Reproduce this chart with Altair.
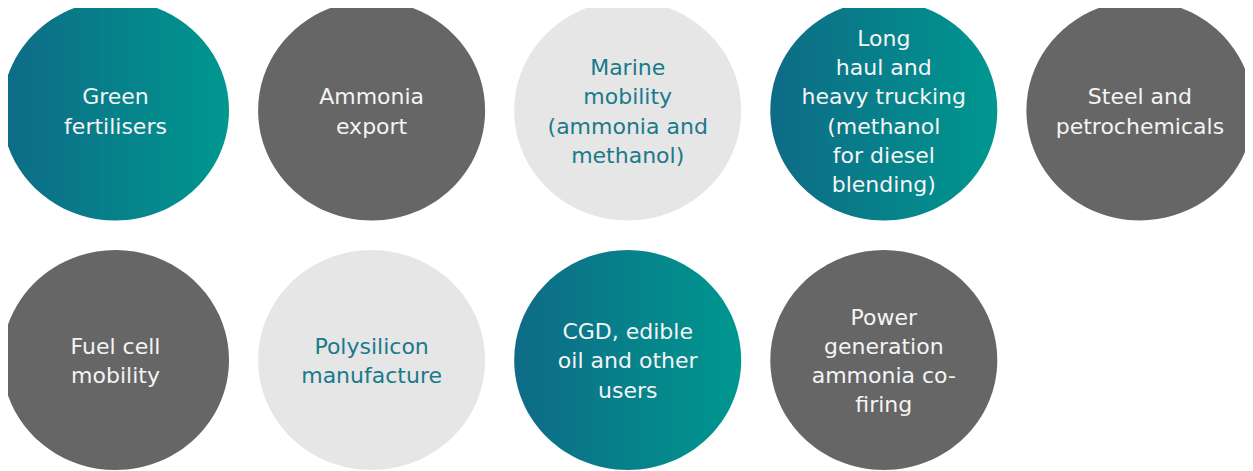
import altair as alt
import pandas as pd

labels = [
    "Green\nfertilisers",
    "Ammonia\nexport",
    "Marine\nmobility\n(ammonia and\nmethanol)",
    "Long\nhaul and\nheavy trucking\n(methanol\nfor diesel\nblending)",
    "Steel and\npetrochemicals",
    "Fuel cell\nmobility",
    "Polysilicon\nmanufacture",
    "CGD, edible\noil and other\nusers",
    "Power\ngeneration\nammonia co-\nfiring",
]
styles = ["teal", "dark", "light", "teal", "dark", "dark", "light", "teal", "dark"]
rows = [0, 0, 0, 0, 0, 1, 1, 1, 1]
cols = [0, 1, 2, 3, 4, 0, 1, 2, 3]

df = pd.DataFrame({"label": labels, "style": styles, "row": rows, "col": cols})

W, H = 1237, 463
colstep, rowstep = 256.1, 249.5
x0, y0 = 107.5, 102.5
xdom = [-x0 / colstep, (W - x0) / colstep]
ydom = [-y0 / rowstep, (H - y0) / rowstep]
LH = 29.3

xscale = alt.Scale(domain=xdom, nice=False, zero=False)
yscale = alt.Scale(domain=ydom, nice=False, zero=False, reverse=True)

ellipse = "M-1,0A1,0.969 0 1,1 1,0A1,0.969 0 1,1 -1,0Z"
size = 227 * 227

base = alt.Chart(df).encode(
    x=alt.X("col:Q", scale=xscale, axis=None),
    y=alt.Y("row:Q", scale=yscale, axis=None),
)

grad = alt.LinearGradient(
    gradient="linear",
    stops=[alt.GradientStop(offset=0, color="#0e6b86"),
           alt.GradientStop(offset=1, color="#00978f")],
    x1=0, x2=1, y1=0, y2=0,
)

teal = base.transform_filter(alt.datum.style == "teal").mark_point(
    shape=ellipse, size=size, filled=True, fill=grad, opacity=1, strokeWidth=0
)
dark = base.transform_filter(alt.datum.style == "dark").mark_point(
    shape=ellipse, size=size, filled=True, fill="#666666", opacity=1, strokeWidth=0
)
light = base.transform_filter(alt.datum.style == "light").mark_point(
    shape=ellipse, size=size, filled=True, fill="#e6e6e6", opacity=1, strokeWidth=0
)

text = alt.Chart(df).transform_calculate(
    nlines="length(split(datum.label, '\\n'))"
).transform_calculate(
    ty=f"datum.row - ((datum.nlines - 1) * {LH} / 2) / {rowstep}"
).mark_text(
    lineBreak="\n", fontSize=22, font="DejaVu Sans", lineHeight=LH,
    align="center", baseline="middle", dy=1.5,
).encode(
    x=alt.X("col:Q", scale=xscale, axis=None),
    y=alt.Y("ty:Q", scale=yscale, axis=None),
    text="label:N",
    color=alt.Color("style:N", scale=alt.Scale(domain=["teal", "dark", "light"],
                                               range=["#f4f4f4", "#f4f4f4", "#1a7a8c"]),
                    legend=None),
)

chart = alt.layer(teal, dark, light, text).properties(
    width=W, height=H,
    padding={"left": 0, "top": 0, "right": 0, "bottom": 0},
    autosize=alt.AutoSizeParams(type="none"),
).configure_view(stroke=None)

chart.save("out.html", embed_options={"renderer": "svg", "actions": False})
